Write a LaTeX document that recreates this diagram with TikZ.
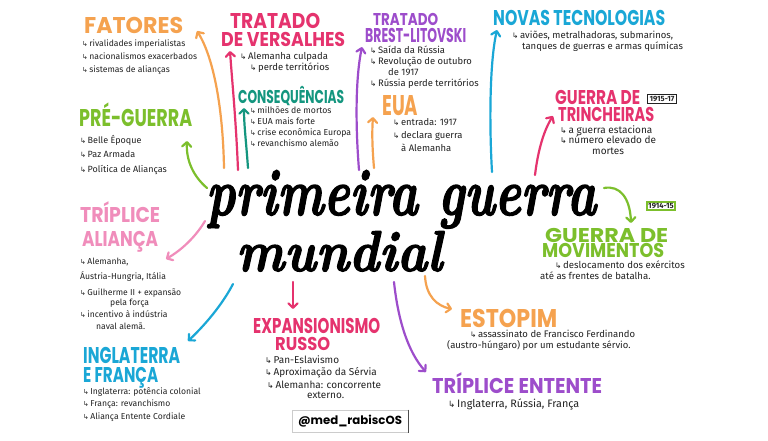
\documentclass[tikz,border=0pt]{standalone}
\usepackage{fontspec}
\usepackage{graphicx}
\usetikzlibrary{arrows.meta}
\newfontfamily\ttlf{Poppins}
\newfontfamily\bodyf{Fira Sans}
\newfontfamily\symf{DejaVu Sans}
\newfontfamily\scrf[FakeBold=2.2]{lmroman10-bolditalic.otf}
\definecolor{cOr}{HTML}{F5A24F}
\definecolor{cGr}{HTML}{7CBF2C}
\definecolor{cPk}{HTML}{F08DBB}
\definecolor{cCy}{HTML}{1AA7D6}
\definecolor{cMg}{HTML}{E5336E}
\definecolor{cTl}{HTML}{14967F}
\definecolor{cPu}{HTML}{9D4DCB}
\definecolor{ink}{HTML}{222222}
\newcommand\bu{{\symf\scalebox{0.8}{↳}}\,}
\newcommand\ttxt[3]{\resizebox{#1pt}{#2pt}{\smash{\ttlf\bfseries #3}\vphantom{\ttlf\bfseries H}}}
\newcommand\cscr[3]{\resizebox{#1pt}{#2pt}{\smash{\scrf #3}\vphantom{\scrf x}}}
\tikzset{
  tt/.style={anchor=base west,inner sep=0pt},
  lst/.style 2 args={align=left,anchor=north west,inner sep=0pt,text=ink,font=\bodyf\fontsize{#1}{#2}\selectfont},
  badge/.style={line width=1pt,inner sep=1.6pt,text=ink,font=\bodyf\bfseries\fontsize{7.6}{8}\selectfont},
  arr/.style={line width=2.2pt,line cap=round,-{Straight Barb[length=4.5pt,width=9pt,line cap=round,line join=round]}},
}
\begin{document}
\begin{tikzpicture}[x=1pt,y=-1pt]
\useasboundingbox (0,0) rectangle (768,440);
\fill[white] (0,0) rectangle (768,440);

% central title
\node[tt] (main) at (206,215) {\cscr{390}{30}{primeira guerra}};
\node[tt] (main2) at (236,271) {\cscr{206}{26}{mundial}};

% titles
\node[tt,text=cOr] (fat) at (84,33) {\ttxt{99}{16}{FATORES}};
\node[tt,text=cGr] (pre) at (79,126) {\ttxt{113}{17}{PRÉ-GUERRA}};
\node[tt,text=cPk] (tal) at (80,222) {\ttxt{80}{15}{TRÍPLICE}};
\node[tt,text=cPk] (tal2) at (82,246) {\ttxt{76}{15}{ALIANÇA}};
\node[tt,text=cCy] (ing) at (83,363) {\ttxt{97}{16}{INGLATERRA}};
\node[tt,text=cCy] (ing2) at (83,382) {\ttxt{75}{15}{E FRANÇA}};
\node[tt,text=cMg] (ver) at (230,28) {\ttxt{90}{15}{TRATADO}};
\node[tt,text=cMg] (ver2) at (221,46) {\ttxt{124}{14}{DE VERSALHES}};
\node[tt,text=cTl] (con) at (238,103) {\ttxt{106}{13}{CONSEQUÊNCIAS}};
\node[tt,text=cPu] (bre) at (373,25) {\ttxt{65}{12}{TRATADO}};
\node[tt,text=cPu] (bre2) at (365,42) {\ttxt{101}{14}{BREST-LITOVSKI}};
\node[tt,text=cOr] (eua) at (382,115) {\ttxt{36}{20}{EUA}};
\node[tt,text=cCy] (nov) at (493,25) {\ttxt{172}{15}{NOVAS TECNOLOGIAS}};
\node[tt,text=cMg] (tri) at (555,104) {\ttxt{85}{14}{GUERRA DE}};
\node[tt,text=cMg] (tri2) at (558,121) {\ttxt{96}{14}{TRINCHEIRAS}};
\node[tt,text=cGr] (mov) at (545,242) {\ttxt{123}{14}{GUERRA DE}};
\node[tt,text=cGr] (mov2) at (542,257) {\ttxt{122}{14}{MOVIMENTOS}};
\node[tt,text=cMg] (exp) at (253,333) {\ttxt{127}{15}{EXPANSIONISMO}};
\node[tt,text=cMg] (exp2) at (275,350) {\ttxt{55}{13}{RUSSO}};
\node[tt,text=cOr] (est) at (460,327) {\ttxt{97}{18}{ESTOPIM}};
\node[tt,text=cPu] (ent) at (432,393) {\ttxt{170}{15}{TRÍPLICE ENTENTE}};

% badges
\node[badge,draw=ink] (b1) at (662,99) {1915-17};
\node[badge,draw=cGr,line width=1.8pt] (b2) at (661,206) {1914-15};

% lists
\node[lst={8.6}{13}] (fatL) at (82,40) {\bu rivalidades imperialistas\\ \bu nacionalismos exacerbados\\ \bu sistemas de alianças};
\node[lst={9}{14.5}] (preL) at (80,135) {\bu Belle Époque\\ \bu Paz Armada\\ \bu Política de Alianças};
\node[lst={8.6}{12}] (talL) at (80,258) {\bu Alemanha,\\[3pt] Áustria-Hungria, Itália\\[4pt] \bu Guilherme II + expansão\\[-2pt] \hspace*{30pt}pela força\\ \bu incentivo à indústria\\ \hspace*{16pt}naval alemã.};
\node[lst={8.6}{12.5}] (ingL) at (83,387) {\bu Inglaterra: potência colonial\\ \bu França: revanchismo\\ \bu Aliança Entente Cordiale};
\node[lst={9.5}{11}] (verL) at (240,52) {\bu Alemanha culpada\\ \hspace*{10pt}\bu perde territórios};
\node[lst={8.7}{11}] (conL) at (250,107) {\bu milhões de mortos\\ \bu EUA mais forte\\ \bu crise econômica Europa\\ \bu revanchismo alemão};
\node[lst={9.4}{10.8}] (breL) at (370,46) {\bu Saída da Rússia\\ \bu Revolução de outubro\\ \hspace*{18pt}de 1917\\ \bu Rússia perde territórios};
\node[lst={9.4}{13}] (euaL) at (393,118) {\bu entrada: 1917\\ \bu declara guerra\\ \hspace*{8pt}à Alemanha};
\node[lst={9.5}{11}] (novL) at (512,31) {\bu aviões, metralhadoras, submarinos,\\ \hspace*{10pt}tanques de guerras e armas químicas};
\node[lst={10}{10.5}] (triL) at (560,125) {\bu a guerra estaciona\\ \bu número elevado de\\ \hspace*{32pt}mortes};
\node[lst={9.6}{10.5}] (movL) at (540,261) {\hspace*{15pt}\bu deslocamento dos exércitos\\ até as frentes de batalha.};
\node[lst={10}{12}] (expL) at (265,355) {\bu Pan-Eslavismo\\ \bu Aproximação da Sérvia\\[1pt] \hspace*{2pt}\bu Alemanha: concorrente\\[-2pt] \hspace*{42pt}externo.};
\node[lst={9.5}{11}] (estL) at (447,330) {\hspace*{23pt}\bu assassinato de Francisco Ferdinando\\ (austro-húngaro) por um estudante sérvio.};
\node[lst={10.8}{12}] (entL) at (448,399) {\bu Inglaterra, Rússia, França};

% tag
\node[draw=gray!40,line width=1pt,minimum width=116pt,minimum height=22pt,inner sep=0pt] (tag) at (350,421) {\resizebox{104pt}{!}{\ttlf\bfseries @med\_rabiscOS}};
\draw[line width=1pt,black!70] (tag.north east) -- (tag.south east);

% connector coordinates
\coordinate (s1) at (224,168); \coordinate (e1) at (197,31);
\coordinate (s2) at (207,188); \coordinate (e2) at (187,141);
\coordinate (s3) at (205,221); \coordinate (e3) at (166,259);
\coordinate (s4) at (233,284); \coordinate (e4) at (188,341);
\coordinate (s5) at (238,170); \coordinate (e5) at (230,51);
\coordinate (s6) at (248,168); \coordinate (e6) at (244,108);
\coordinate (s7) at (359,170); \coordinate (e7) at (362,47);
\coordinate (s8) at (374,168); \coordinate (e8) at (373,117);
\coordinate (s9) at (492,172); \coordinate (e9) at (497,30);
\coordinate (s10) at (535,175); \coordinate (e10) at (553,116);
\coordinate (s11) at (604,188); \coordinate (e11) at (631,223);
\coordinate (s12) at (293,282); \coordinate (e12) at (293,309);
\coordinate (s13) at (425,276); \coordinate (e13) at (452,309);
\coordinate (s14) at (394,282); \coordinate (e14) at (426,372);

\draw[arr,cOr] (s1) .. controls (223,110) and (214,58) .. (e1);
\draw[arr,cGr] (s2) .. controls (193,176) and (186,160) .. (e2);
\draw[arr,cPk] (s3) .. controls (195,238) and (180,251) .. (e3);
\draw[arr,cCy] (s4) .. controls (222,305) and (205,325) .. (e4);
\draw[arr,cMg] (s5) .. controls (236,120) and (232,80) .. (e5);
\draw[arr,cTl] (s6) .. controls (246,140) and (244,125) .. (e6);
\draw[arr,cPu] (s7) .. controls (355,120) and (356,75) .. (e7);
\draw[arr,cOr] (s8) .. controls (372,145) and (372,130) .. (e8);
\draw[arr,cCy] (s9) .. controls (489,120) and (490,60) .. (e9);
\draw[arr,cMg] (s10) .. controls (538,150) and (544,130) .. (e10);
\draw[arr,cGr] (s11) .. controls (620,185) and (630,198) .. (e11);
\draw[arr,cMg] (s12) -- (e12);
\draw[arr,cOr] (s13) .. controls (426,296) and (437,306) .. (e13);
\draw[arr,cPu] (s14) .. controls (398,320) and (408,352) .. (e14);
\end{tikzpicture}
\end{document}
